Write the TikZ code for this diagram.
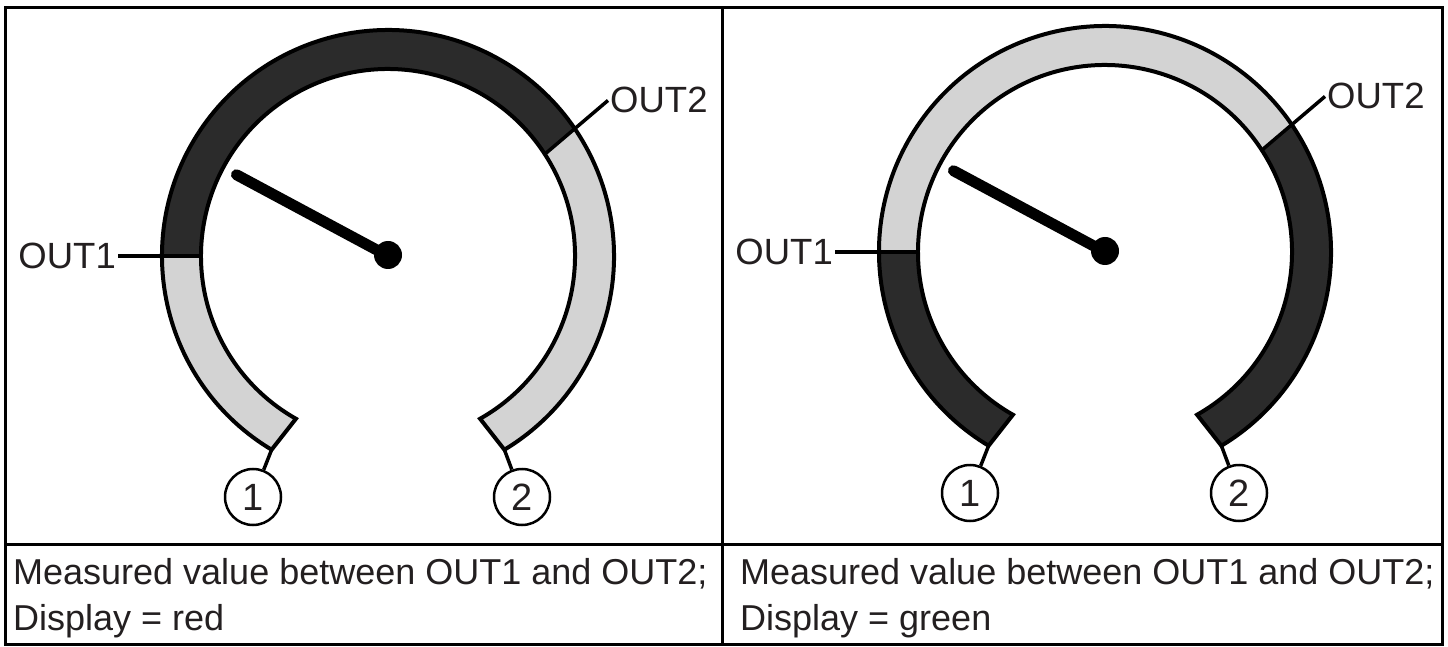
\documentclass[tikz,border=0pt]{standalone}
\usepackage{fontspec}
\setmainfont{Liberation Sans}
\definecolor{bandDark}{RGB}{43,43,43}
\definecolor{bandLight}{RGB}{211,211,211}
\definecolor{inkGray}{RGB}{35,31,32}

\begin{document}
\begin{tikzpicture}[x=1pt, y=1pt,
    outline/.style={line width=4pt},
    leader/.style={line width=3.5pt},
    frameline/.style={line width=3pt},
    lbl/.style={font=\fontsize{36.5}{42}\selectfont, text=inkGray, inner sep=2pt},
    capt/.style={font=\fontsize{36}{46}\selectfont, text=inkGray, inner sep=0pt, anchor=base west},
    pin/.style={circle, draw, line width=2.5pt, minimum size=56pt, inner sep=0pt,
                font=\fontsize{38}{42}\selectfont, text=inkGray}]
    % Dimensions
    \def\Ro{226}   % outer radius of the band
    \def\Ri{187}   % inner radius of the band
    \def\needle{172}

    \useasboundingbox (0,0) rectangle (1448,646);

    % Frame of the table
    \draw[frameline] (5,2) rectangle (1442,638.5);
    \draw[frameline] (722,2) -- (722,638.5);
    \draw[frameline] (5,102) -- (1442,102);

    % The two gauges (left: dark top, right: light top)
    \foreach \dx/\dy/\cTop/\cSide/\p in {0/0/bandDark/bandLight/L, 717/4/bandLight/bandDark/R} {
      \begin{scope}[shift={(388+\dx,390+\dy)}]
        % band segments
        \fill[\cTop] (34:\Ro) arc[start angle=34, end angle=180, radius=\Ro]
            -- (180:\Ri) arc[start angle=180, end angle=33, radius=\Ri] -- cycle;
        \fill[\cSide] (180:\Ro) arc[start angle=180, end angle=239, radius=\Ro]
            -- (240.5:\Ri) arc[start angle=240.5, end angle=180, radius=\Ri] -- cycle;
        \fill[\cSide] (-59:\Ro) arc[start angle=-59, end angle=34, radius=\Ro]
            -- (33:\Ri) arc[start angle=33, end angle=-60.5, radius=\Ri] -- cycle;
        \draw[outline] (239:\Ro) arc[start angle=239, end angle=-59, radius=\Ro]
            -- (-60.5:\Ri) arc[start angle=-60.5, end angle=240.5, radius=\Ri] -- cycle;

        % switch points and band ends
        \coordinate (o1\p) at (180:\Ri);
        \coordinate (o2\p) at (33:\Ri);
        \coordinate (e1\p) at (239:\Ro);
        \coordinate (e2\p) at (-59:\Ro);

        % labels
        \node[lbl, anchor=east] (out1\p) at (-270,0) {OUT1};
        \node[lbl, anchor=base west] (out2\p) at (220,143) {OUT2};
        \draw[leader] (out1\p.east) -- (o1\p);
        \draw[leader] (o2\p) -- (out2\p.west);

        % numbered ends
        \node[pin] (n1\p) at (-135,-241) {1};
        \node[pin] (n2\p) at (134,-241) {2};
        \draw[leader] (e1\p) -- (n1\p);
        \draw[leader] (e2\p) -- (n2\p);

        % pointer
        \draw[line width=11pt, line cap=round] (0,0) -- (151.8:\needle);
        \fill (0,1) circle[radius=14];
      \end{scope}
    }

    % Captions
    \node[capt] (capL1) at (13,62) {Measured value between OUT1 and OUT2;};
    \node[capt] (capL2) at (13,16) {Display = red};
    \node[capt] (capR1) at (740,62) {Measured value between OUT1 and OUT2;};
    \node[capt] (capR2) at (740,16) {Display = green};
\end{tikzpicture}
\end{document}
